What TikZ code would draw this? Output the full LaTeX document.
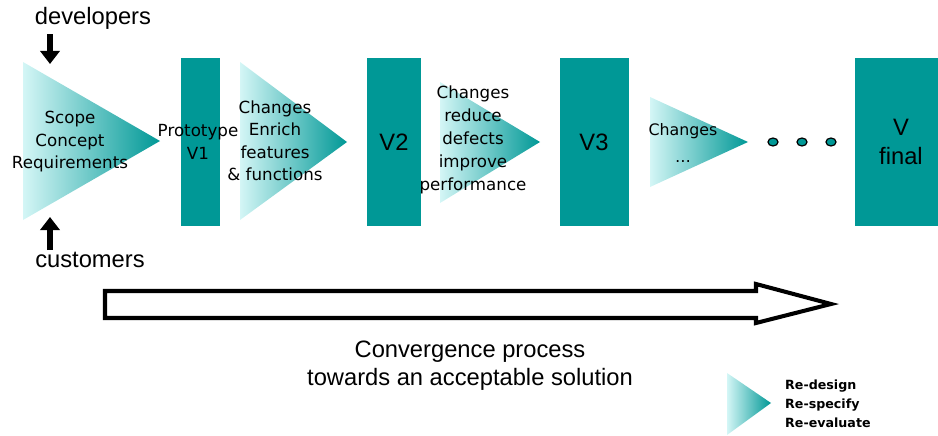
\documentclass[tikz,border=0pt]{standalone}
\usepackage{fontspec}
\setmainfont{Liberation Sans}
\newfontfamily\handfont{DejaVu Sans}
\usetikzlibrary{arrows.meta}
\definecolor{versionteal}{RGB}{0,152,150}
\definecolor{palecyan}{RGB}{212,246,246}
\def\stagetri(#1)(#2)(#3){\shade[left color=palecyan, right color=versionteal, shading angle=90] (#1) -- (#2) -- (#3) -- cycle;}
\tikzset{
  version/.style={fill=versionteal},
  handtext/.style={align=center, font=\handfont\fontsize{9.5}{12.8}\selectfont},
  plaintext/.style={align=center, font=\fontsize{13.5}{16.5}\selectfont},
  inputarrow/.style={line width=3pt, -{Triangle[width=11pt,length=7.5pt]}},
  legendtext/.style={align=left, font=\handfont\bfseries\fontsize{7.2}{10.8}\selectfont}
}

\begin{document}
\begin{tikzpicture}[x=0.02cm, y=-0.02cm]
			%%%%% START %%%%%
			\useasboundingbox (0,0) rectangle (938,436);
			
			% first stage
			\stagetri(23,62)(160,141)(23,220)
			\node[handtext] (scope) at (70,142) {Scope\\Concept\\Requirements};
			\node[plaintext] (dev) at (93,18) {developers};
			\node[plaintext] (cust) at (90,260) {customers};
			\coordinate (devtail) at (50,34);
			\coordinate (devtip) at (50,64);
			\coordinate (custtail) at (50,250);
			\coordinate (custtip) at (50,217);
			\draw[inputarrow] (devtail) -- (devtip);
			\draw[inputarrow] (custtail) -- (custtip);
			
			% versions
			\fill[version] (181,58) rectangle (220,226);
			\fill[version] (367,58) rectangle (421,226);
			\fill[version] (560,58) rectangle (629,226);
			\fill[version] (855,58) rectangle (940,226);
			
			% changes
			\stagetri(240,62)(347,142)(240,220)
			\stagetri(440,82)(540,142)(440,203)
			\stagetri(650,97)(748,142)(650,187)
			
			\node[handtext] (proto) at (198,142) {Prototype\\V1};
			\node[handtext] (enrich) at (275,141) {Changes\\Enrich\\features\\\& functions};
			\node[handtext, font=\handfont\fontsize{9.5}{13}\selectfont] (reduce) at (473,140) {Changes\\reduce\\defects\\improve\\performance};
			\node[handtext, font=\handfont\fontsize{9}{15}\selectfont] (more) at (683,143) {Changes\\\ldots};
			
			\node[plaintext] (vtwo) at (394,142) {V2};
			\node[plaintext] (vthree) at (594,142) {V3};
			\node[plaintext, font=\fontsize{13.5}{17}\selectfont] (vfinal) at (901,142) {V\\final};
			
			\foreach \x in {773,802,831}
				\draw[fill=versionteal, line width=0.7pt] (\x,142) ellipse (0.1cm and 0.08cm);
			
			% convergence
			\draw[line width=2.3pt, fill=white, line join=miter] (105,291) -- (756,291) -- (756,284) -- (831,304) -- (756,323) -- (756,318) -- (105,318) -- cycle;
			\node[plaintext, font=\fontsize{13.5}{16}\selectfont] (conv) at (470,366) {Convergence process\\towards an acceptable solution};
			
			% legend
			\stagetri(727,373)(771,403)(727,435)
			\node[legendtext, anchor=west] (legend) at (779,404) {Re-design\\Re-specify\\Re-evaluate};
			
			%%%%% END %%%%%
		\end{tikzpicture}
\end{document}
